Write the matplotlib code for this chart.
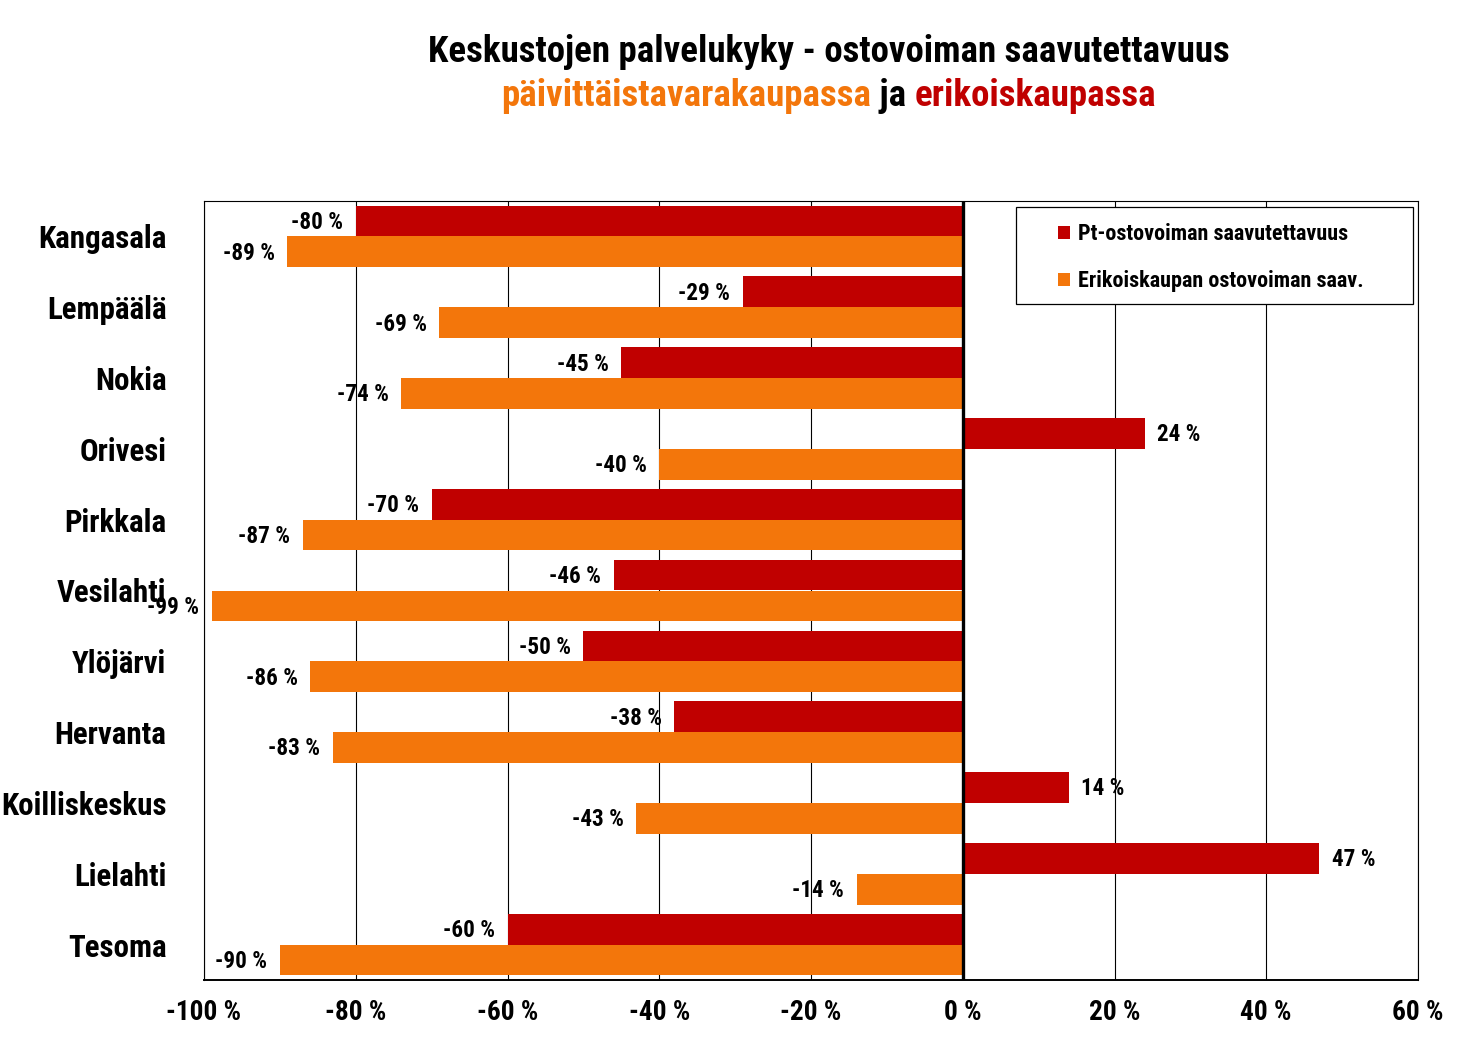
import matplotlib.pyplot as plt
import numpy as np
from matplotlib import font_manager
from matplotlib.patches import Rectangle

# Tiedot
keskukset = ["Kangasala", "Lempäälä", "Nokia", "Orivesi", "Pirkkala", "Vesilahti",
             "Ylöjärvi", "Hervanta", "Koilliskeskus", "Lielahti", "Tesoma"]
pt_arvot = [-80, -29, -45, 24, -70, -46, -50, -38, 14, 47, -60]
erik_arvot = [-89, -69, -74, -40, -87, -99, -86, -83, -43, -14, -90]
sarjat = ["Pt-ostovoiman saavutettavuus", "Erikoiskaupan ostovoiman saav."]
x_ticks = [-100, -80, -60, -40, -20, 0, 20, 40, 60]

punainen = "#C00000"
oranssi = "#F3760B"


# Kapea lihavoitu fontti (Arial Narrow -tyyppinen), jos löytyy
def paino(w):
    return w if isinstance(w, (int, float)) else font_manager.weight_dict.get(w, 400)


lihavat = {f.name for f in font_manager.fontManager.ttflist if paino(f.weight) >= 700}
ehdokkaat = ["Liberation Sans Narrow", "Roboto Condensed", "PT Sans Narrow",
             "Archivo Narrow", "Pragati Narrow", "Sofia Sans Condensed",
             "IBM Plex Sans Condensed", "Encode Sans Condensed"]
fontti = next((n for n in ehdokkaat if n in lihavat), "Liberation Sans")
plt.rcParams['font.family'] = [fontti, 'DejaVu Sans']
plt.rcParams['font.weight'] = 'bold'

fig = plt.figure(figsize=(14.7, 10.54), dpi=100)
r = fig.canvas.get_renderer()


def koko(teksti, leveys_px):
    # fonttikoko, jolla teksti on annetun levyinen
    t = fig.text(0, 0, teksti, fontsize=20, fontweight='bold')
    w = t.get_window_extent(r).width
    t.remove()
    return 20 * leveys_px / w


fs_otsikko = koko("Keskustojen palvelukyky - ostovoiman saavutettavuus", 800)
fs_kesk = min(koko("Kangasala", 135), koko("Koilliskeskus", 166))
fs_arvo = koko("-89 %", 52)
fs_x = koko("-100 %", 75)
fs_selite = koko(sarjat[0], 270)

ax = fig.add_axes([204/1470, 1 - 980/1054, (1418-204)/1470, (980-201)/1054])

y = np.arange(len(keskukset))
h = 0.435
ax.barh(y - h/2, pt_arvot, height=h, color=punainen, label=sarjat[0], zorder=2)
ax.barh(y + h/2, erik_arvot, height=h, color=oranssi, label=sarjat[1], zorder=2)

# Arvojen tekstit palkkien päihin
for yy, arvot in [(y - h/2, pt_arvot), (y + h/2, erik_arvot)]:
    for i, v in enumerate(arvot):
        ax.annotate(f"{v} %", (v, yy[i]), xytext=(9 if v > 0 else -9, -1),
                    textcoords='offset points', ha='left' if v > 0 else 'right',
                    va='center', fontsize=fs_arvo, fontweight='bold', zorder=4)

ax.set_xlim(-100, 60)
ax.set_ylim(len(keskukset) - 0.5, -0.5)
ax.set_xticks(x_ticks)
ax.set_xticklabels([f"{t} %" for t in x_ticks], fontsize=fs_x, fontweight='bold')
ax.set_yticks(y)
ax.set_yticklabels(keskukset, fontsize=fs_kesk, fontweight='bold')
ax.tick_params(axis='both', length=0)
ax.tick_params(axis='x', pad=14)
ax.tick_params(axis='y', pad=27)

# Ruudukko
ax.xaxis.grid(True, color='black', linewidth=0.8, zorder=1)
ax.set_axisbelow(True)
ax.axvline(0, color='black', linewidth=2.4, zorder=3)
for s in ['top', 'right', 'left']:
    ax.spines[s].set_linewidth(0.8)
ax.spines['bottom'].set_linewidth(1.4)

# Selite
ax.add_patch(Rectangle(((1016-204)/1214, 1 - (304-201)/779), (1413-1016)/1214, 97/779,
                       transform=ax.transAxes, facecolor='white', edgecolor='black',
                       linewidth=0.9, zorder=5))
leg = ax.legend(loc='upper left', bbox_to_anchor=((1058-204)/1214, 1 - (223-201)/779),
                frameon=False, fontsize=fs_selite, handlelength=0.55, handleheight=0.55,
                handletextpad=0.35, labelspacing=1.15, borderaxespad=0, borderpad=0)
leg.set_zorder(6)
for t in leg.get_texts():
    t.set_fontweight('bold')

# Otsikko
fig.text(829/1470, 1 - 52/1054, "Keskustojen palvelukyky - ostovoiman saavutettavuus",
         ha='center', va='center', fontsize=fs_otsikko, fontweight='bold')
osat = [("päivittäistavarakaupassa", oranssi), (" ja ", "black"), ("erikoiskaupassa", punainen)]
tekstit = [fig.text(0, 1 - 96/1054, s, color=c, ha='left', va='center', fontsize=fs_otsikko,
                    fontweight='bold') for s, c in osat]
leveydet = [t.get_window_extent(r).width for t in tekstit]
x0 = 829 - sum(leveydet) / 2
for t, w in zip(tekstit, leveydet):
    t.set_x(x0 / 1470)
    x0 += w

fig.savefig("out.png", dpi=100)
